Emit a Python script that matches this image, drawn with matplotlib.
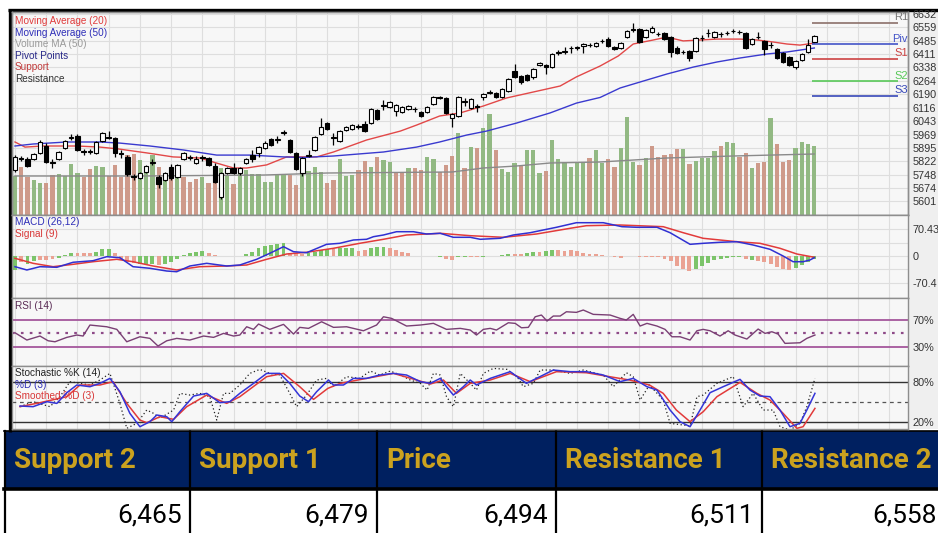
import matplotlib
matplotlib.use("Agg")
import matplotlib.pyplot as plt
from matplotlib.patches import Rectangle
import numpy as np

W, H = 938, 533
plt.rcParams["font.family"] = ["Liberation Sans", "DejaVu Sans"]

# ---------------- data ----------------
opens = [5774, 5840, 5834, 5834, 5867, 5906, 5818, 5834, 5895, 5950,
         5961, 5879, 5873, 5867, 5933, 5956, 5950, 5867, 5845, 5741,
         5730, 5763, 5812, 5735, 5719, 5790, 5735, 5834, 5840, 5812,
         5845, 5840, 5796, 5626, 5757, 5785, 5757, 5812, 5856, 5867,
         5895, 5944, 5939, 5977, 5939, 5867, 5757, 5851, 5884, 5972,
         6032, 5950, 5933, 5994, 5999, 6010, 6027, 6032, 6104, 6126,
         6120, 6098, 6093, 6110, 6109, 6093, 6093, 6137, 6176, 6170,
         6060, 6071, 6148, 6115, 6126, 6175, 6197, 6197, 6175, 6208,
         6318, 6291, 6297, 6286, 6351, 6351, 6341, 6417, 6423, 6443,
         6445, 6456, 6462, 6456, 6483, 6494, 6450, 6445, 6505, 6544,
         6549, 6505, 6533, 6524, 6527, 6505, 6445, 6425, 6428, 6428,
         6498, 6525, 6505, 6524, 6526, 6537, 6534, 6527, 6467, 6503,
         6483, 6462, 6440, 6418, 6396, 6341, 6379, 6423, 6478]
highs = [5857, 5851, 5845, 5868, 5939, 5922, 5834, 5879, 5939, 5972,
         5972, 5890, 5890, 5933, 5983, 5988, 5956, 5884, 5857, 5752,
         5763, 5801, 5834, 5746, 5763, 5807, 5807, 5873, 5857, 5851,
         5857, 5846, 5812, 5763, 5790, 5812, 5790, 5840, 5884, 5906,
         5933, 5950, 5961, 5994, 5944, 5873, 5846, 5884, 5961, 6060,
         6038, 5977, 5994, 6016, 6027, 6027, 6043, 6115, 6110, 6159,
         6154, 6137, 6126, 6131, 6120, 6098, 6126, 6181, 6181, 6176,
         6087, 6181, 6170, 6170, 6137, 6198, 6214, 6203, 6225, 6280,
         6357, 6297, 6302, 6335, 6368, 6357, 6418, 6434, 6450, 6456,
         6456, 6472, 6472, 6478, 6494, 6505, 6456, 6478, 6544, 6582,
         6555, 6549, 6566, 6533, 6533, 6511, 6456, 6434, 6434, 6505,
         6516, 6549, 6538, 6533, 6538, 6549, 6544, 6533, 6500, 6533,
         6489, 6478, 6445, 6423, 6401, 6379, 6417, 6494, 6516]
lows = [5763, 5823, 5790, 5829, 5862, 5812, 5785, 5829, 5890, 5939,
        5878, 5857, 5862, 5862, 5928, 5945, 5845, 5840, 5741, 5719,
        5724, 5757, 5801, 5675, 5713, 5719, 5730, 5829, 5829, 5807,
        5823, 5796, 5702, 5615, 5752, 5752, 5746, 5807, 5818, 5845,
        5890, 5906, 5922, 5966, 5867, 5774, 5741, 5845, 5878, 5966,
        5994, 5911, 5928, 5988, 5994, 5999, 5983, 6027, 6049, 6104,
        6115, 6071, 6087, 6104, 6093, 6065, 6087, 6131, 6165, 6082,
        6010, 6065, 6126, 6110, 6093, 6159, 6192, 6170, 6170, 6203,
        6280, 6247, 6264, 6275, 6346, 6302, 6335, 6406, 6412, 6417,
        6434, 6417, 6450, 6450, 6472, 6450, 6434, 6439, 6500, 6533,
        6472, 6500, 6527, 6511, 6489, 6395, 6412, 6412, 6373, 6423,
        6483, 6505, 6500, 6505, 6516, 6527, 6522, 6439, 6461, 6494,
        6406, 6445, 6384, 6362, 6346, 6330, 6373, 6417, 6472]
closes = [5845, 5834, 5796, 5862, 5928, 5818, 5812, 5873, 5933, 5956,
          5884, 5873, 5878, 5928, 5977, 5950, 5867, 5862, 5752, 5735,
          5757, 5796, 5818, 5697, 5757, 5730, 5801, 5867, 5845, 5834,
          5840, 5801, 5708, 5757, 5785, 5757, 5785, 5834, 5834, 5900,
          5922, 5911, 5944, 5983, 5873, 5780, 5840, 5856, 5956, 6010,
          5999, 5956, 5988, 6010, 6021, 6016, 5988, 6109, 6054, 6131,
          6148, 6131, 6120, 6126, 6110, 6071, 6120, 6175, 6170, 6087,
          6082, 6175, 6153, 6164, 6120, 6192, 6203, 6175, 6220, 6275,
          6286, 6258, 6269, 6330, 6362, 6341, 6412, 6423, 6428, 6447,
          6450, 6467, 6461, 6472, 6485, 6456, 6440, 6472, 6538, 6549,
          6478, 6544, 6555, 6520, 6494, 6423, 6418, 6421, 6390, 6500,
          6502, 6529, 6533, 6520, 6528, 6539, 6532, 6445, 6494, 6507,
          6440, 6460, 6390, 6368, 6352, 6374, 6412, 6462, 6511]
volume = [39, 48, 38, 35, 32, 32, 40, 41, 39, 51,
          42, 38, 46, 49, 48, 39, 50, 38, 60, 61,
          55, 46, 60, 48, 40, 47, 37, 38, 33, 36,
          38, 32, 38, 47, 39, 31, 43, 45, 41, 41,
          33, 33, 40, 40, 40, 30, 47, 44, 48, 43,
          32, 35, 56, 39, 40, 45, 54, 48, 58, 55,
          53, 43, 43, 47, 47, 45, 58, 56, 43, 50,
          59, 82, 47, 68, 67, 87, 101, 65, 46, 43,
          52, 49, 65, 65, 42, 44, 75, 56, 53, 48,
          52, 52, 57, 65, 52, 56, 48, 67, 98, 53,
          50, 57, 69, 58, 60, 61, 66, 66, 51, 54,
          57, 57, 64, 69, 73, 72, 58, 62, 47, 52,
          53, 97, 71, 53, 55, 67, 73, 71, 69]
volume_dir = ("grrggrrggg" "grrggrrrrr" "gggrgrgrrr" "grrggrgggg" "ggggrrgggg"
              "rrgggrrgrg" "grrgrrggrr" "rgrgrggrgg" "grgggrgggg" "ggrggrrggg"
              "rgrrrrrgrg" "gggrggrrgr" "rgrrrgggg")

ma20_x = [0, 1.6, 4.5, 9.9, 13.6, 16.5, 21.1, 25.3, 29.6, 32.3, 35.0, 37.1, 40.3, 43.5,
          45.6, 48.3, 51.0, 56.3, 61.7, 64.3, 68.0, 71.3, 75.0, 78.7, 83.0, 87.3, 89.9,
          93.7, 96.6, 99.0, 102.2, 104.4, 107.0, 109.7, 112.4, 116.1, 118.8, 121.4,
          123.6, 125.7, 128.0]
ma20_v = [5928, 5900, 5906, 5906, 5900, 5890, 5868, 5846, 5840, 5812, 5785, 5785, 5802,
          5846, 5846, 5846, 5873, 5939, 5988, 6021, 6071, 6088, 6126, 6170, 6203, 6236,
          6286, 6346, 6401, 6467, 6489, 6505, 6484, 6489, 6494, 6494, 6489, 6478, 6467,
          6461, 6472]
ma50_x = [0, 2.9, 8.3, 13.6, 16.8, 21.6, 27.0, 32.3, 37.6, 43.0, 46.1, 51.0, 59.0, 64.3,
          68.0, 72.3, 75.5, 80.3, 85.7, 89.9, 93.7, 96.9, 100.1, 104.4, 108.6, 112.4,
          116.1, 120.4, 123.6, 128.0]
ma50_v = [5906, 5917, 5928, 5928, 5922, 5906, 5884, 5856, 5856, 5846, 5843, 5851, 5873,
          5900, 5928, 5966, 5988, 6032, 6088, 6142, 6173, 6225, 6258, 6302, 6340, 6368,
          6390, 6412, 6423, 6445]
vol_ma_x = [0, 20, 40, 50, 70, 75, 80.3, 85.7, 93.7, 104.4, 115, 128]
vol_ma_v = [39, 39, 40, 42, 43, 47, 49, 52, 53, 57, 59, 61]

pivot_names = ["R1", "Piv", "S1", "S2", "S3"]
pivot_levels = [6584, 6465, 6386, 6262, 6183]
pivot_colors = ["#8C706A", "#4454C8", "#CC4242", "#58C858", "#3848B8"]

price_ticks = [6632, 6559, 6485, 6411, 6338, 6264, 6190, 6116, 6043, 5969,
               5895, 5822, 5748, 5674, 5601]

macd_x = [0, 1.9, 4, 6.7, 9.3, 12.5, 14.7, 16.8, 18.9, 21.6, 24.3, 25.9, 28, 30.7, 33.9,
          36, 38.7, 40.8, 43, 44.6, 46.7, 49.9, 52, 54.2, 56.3, 57.4, 59, 61.1, 63.8,
          65.9, 68.1, 70.2, 72.9, 74.5, 77.7, 79.8, 82.5, 84.6, 86.7, 89.9, 94.2, 97.2,
          99.6, 102.8, 104.9, 106, 108.1, 110.2, 112.9, 115.6, 118.2, 120.9, 123, 124.6,
          126.2, 127.3, 128]
macd_v = [-27.9, -36.5, -27.9, -29.5, -16.4, -12.3, -1.8, -4.4, -27.9, -32.1, -39.2,
          -41, -26.1, -19.1, -26.1, -23.5, -8.6, 7, 24.3, 11.2, 8.6, 30.5, 33.1, 41.8,
          43.6, 50.4, 54.8, 63.4, 63.4, 57.4, 59.2, 48.8, 48.8, 43.6, 46.2, 54.8, 60.8,
          67.9, 74.9, 86.9, 86.9, 76.5, 74.9, 74.9, 60.8, 50.4, 30.5, 33.1, 35.8, 37.3,
          28.7, 17.5, 0, -14.9, -14.9, -10.4, -4.4]
signal_x = [0, 2.9, 6.1, 9.3, 12.5, 16.3, 18.9, 22.1, 25.9, 29.6, 33.9, 37.1, 40.3, 43.5,
            46.7, 51, 55.2, 59, 62.7, 65.9, 68.1, 72.9, 78.2, 83.5, 88.9, 91.5, 96.9,
            103.8, 107, 110.2, 115.6, 119.3, 122.5, 125.2, 128]
signal_v = [-6, -19.1, -27.9, -21.7, -14.9, -8.6, -14.9, -26.1, -36.5, -27.9, -26.1,
            -23.5, -8.6, 5.2, 9.7, 20.1, 33.1, 43.6, 54.8, 57.4, 59.2, 53, 48.8, 57.4,
            72.3, 79.1, 80.9, 76.5, 60.8, 46.2, 37.3, 33.1, 20.1, 5.2, -3.4]
hist = [-36.5, -15.7, -20.9, -13, -10.4, -10.4, -7.8, -5.2, 2.6, 7.8,
        7.8, 7.8, 7, 10.4, 17, 17, 7.8, -10.4, -14.9, -18.3,
        -19.6, -19.6, -19.6, -23.5, -19.6, -14.9, -8.6, 2.6, 7, 11.2,
        13, 8.6, 2.6, 0.8, -1.3, -1.3, -1.3, 5.2, 11.2, 20.1,
        26.1, 28.7, 30.5, 34.7, 8.6, 7, 5.2, 7, 11.2, 15.7,
        17.5, 17.5, 20.1, 20.1, 20.1, 13.8, 15.7, 20.1, 22.7, 22.7,
        20.9, 15.7, 11.2, 7, 1.3, 0.8, -1.3, -0.8, -2.6, -7.8,
        -10.4, -3.9, -3.9, -3.4, -3.4, -2.6, -1.3, 0.8, 2.6, 5.2,
        5.2, 6, 8.6, 11.2, 11.2, 13.8, 15.7, 15.7, 13.8, 15.7,
        13.8, 8.6, 6, 4.4, 2.6, -0.8, -2.6, -4.4, 0.8, -0.8,
        -2.6, -2.6, -2.6, -3.9, -7.8, -13, -26.1, -33.9, -39.2, -33.9,
        -26.1, -18.3, -10.4, -7.8, -5.2, -2.6, -2.6, -7.8, -10.4, -13,
        -15.7, -20.9, -28.7, -35.2, -36.5, -31.3, -23.5, -15.7, -7.8]
hist_dir = ("grggrrrggg" "rrrgggrrrr" "gggrgggggg" "grrrrrrggg" "ggggrrrggg"
            "grgggrrggg" "rrrrrrgggr" "rgg" "rrgggggrrg" "grggrrrrrr"
            "rrrrrggrrr" "rrrrrrgggg" "ggggrgrrrr" "rrgggg")

rsi_x = [0, 1.9, 4, 5.3, 6.4, 8.3, 9.9, 10.9, 12, 14.7, 16.3, 17.9, 20, 21.6, 22.9,
         24.3, 25.9, 28, 30.2, 31.8, 33.4, 35, 36, 37.1, 38.2, 39, 40.8, 43, 44.6, 45.6,
         47, 49.1, 51, 53.1, 55.8, 57.9, 59, 60.3, 62.7, 64.9, 67, 69.1, 71.3, 72.9,
         73.9, 75, 76.1, 77.1, 79, 80.1, 81.1, 82.2, 83.3, 84.3, 85.2, 86.2, 87.3, 88.3,
         89.9, 91, 92.6, 95.3, 96.9, 97.9, 99, 100.1, 101.2, 102.8, 104.1, 105.2, 106.5,
         108.1, 109.2, 110.2, 111.3, 112.9, 114.2, 115.3, 117.2, 119, 120.1, 121.2,
         122.2, 123.3, 125.7, 126.8, 128.1]
rsi_v = [50.9, 40, 46, 38.9, 37.4, 44, 47.5, 46, 62.5, 59.9, 56, 37.4, 44.9, 42.5, 31,
         38.9, 42.5, 40, 46, 44, 50, 46, 47.5, 59.9, 56, 64, 56, 63.5, 49, 59, 57.5,
         67.4, 59, 59.9, 53.9, 62.5, 74.9, 72.5, 61, 62.5, 65, 56, 57.5, 55, 47.5, 56,
         57.5, 55, 65.9, 65, 58.4, 59, 74.9, 77.5, 68.5, 76, 76, 82.4, 81.5, 85, 78.5,
         77.5, 72.5, 70, 78.5, 61, 65, 61, 56, 44.9, 44.9, 40, 53.9, 56, 53.9, 46,
         53.9, 47.5, 41.5, 56.5, 50, 52.4, 49, 35, 35.9, 42.5, 47.5]

stk_x = [0.8, 2.9, 5.6, 7.2, 8.8, 10.4, 12, 13.6, 15.2, 16.8, 17.9, 19.5, 21.1, 22.2,
         23.2, 25.4, 26.4, 28, 29.6, 31.2, 32.3, 33.4, 34.4, 36, 37.6, 39.2, 40.8, 42.4,
         44, 45.1, 46.7, 48.3, 49.9, 51, 53.1, 55.2, 56.9, 58.4, 60.1, 61.7, 63.3, 64.9,
         66, 67, 68.1, 69.1, 70.2, 71.3, 72.9, 73.9, 75, 76.6, 78.8, 80.4, 81.4, 83,
         84.1, 86.2, 88.9, 91, 94.2, 95.8, 97.9, 99, 100.1, 101.6, 103.8, 104.9, 107,
         108.1, 109.2, 110.2, 112.4, 115, 116.6, 118.2, 119.8, 121.4, 122.5, 124.1,
         125.7, 126.8, 128.1]
stk_v = [42.9, 50.5, 42.9, 58.1, 81, 78.4, 75.9, 83.5, 93.6, 47.9, 9.9, 17.5, 37.8,
         32.7, 25.1, 37.8, 63.2, 60.6, 63.2, 58.1, 22.5, 63.2, 63.2, 75.9, 93.6, 99.7,
         93.6, 91.1, 63.2, 42.9, 60.6, 83.5, 86, 73.3, 88.6, 86, 97.2, 91.1, 97.2, 91.1,
         83.5, 78.4, 68.2, 93.6, 91.1, 58.1, 42.9, 93.6, 78.4, 68.2, 93.6, 101.2, 99.7,
         88.6, 73.3, 78.4, 98.7, 98.7, 93.6, 98.7, 91.1, 73.3, 94.6, 88.6, 53, 75.9, 53,
         17.5, 15, 13.4, 58.1, 60.6, 78.4, 88.6, 42.9, 63.2, 37.8, 37.8, 12.4, 7.3,
         17.5, 42.9, 86]
std_x = [0.8, 2.9, 5.1, 6.7, 8.3, 9.9, 12, 13.6, 15.2, 16.8, 18.4, 20, 21.6, 22.7, 24.3,
         25.1, 26.4, 28.6, 30.7, 32.8, 34.4, 36, 38.2, 40.3, 42.4, 44, 45.6, 47, 48.3,
         50.2, 51, 52.6, 54.2, 56.3, 58.4, 60.6, 62.7, 64.9, 66.5, 68.1, 69.1, 70.2,
         71.8, 72.9, 73.9, 76.1, 79.3, 81.9, 86.2, 88.9, 91.5, 94.2, 96.9, 99, 101.2,
         102.8, 104.9, 106.5, 108.1, 109.7, 111.3, 113.4, 116.1, 117.7, 119.3, 120.9,
         122.5, 124.1, 125.7, 126.8, 128.1]
std_v = [43.9, 42.9, 50.5, 47.9, 64.2, 75.9, 73.3, 78.4, 86, 65.7, 32.7, 12.4, 20, 30.2,
         27.6, 20, 35.2, 59.1, 63.2, 49, 50.5, 63.2, 78.4, 93.6, 93.6, 78.4, 59.1, 50.5,
         65.7, 83.5, 75.9, 75.9, 86, 86, 91.1, 93.6, 91.1, 81, 78.4, 86, 73.3, 60.6,
         73.3, 83.5, 75.9, 86, 96.2, 78.4, 98.7, 96.2, 96.2, 91.1, 81, 86, 73.3, 68.2,
         37.8, 20, 12.4, 37.8, 64.2, 73.3, 84.5, 68.2, 59.1, 58.1, 37.8, 12.4, 17.5,
         37.8, 63.2]
sms_x = [0.8, 4, 8.3, 10.4, 13.6, 15.7, 17.9, 20, 21.1, 23.2, 25.4, 27.5, 30.7, 33.9, 36,
         40.3, 43, 45.6, 47.8, 50.1, 52.1, 56.3, 60.6, 64.3, 66.5, 68.6, 70.7, 72.9,
         76.1, 79.3, 82.5, 86.7, 91.5, 95.2, 98.4, 101.6, 103.8, 105.9, 108.1, 110.2,
         112.4, 116.1, 118.8, 120.9, 123, 125.2, 126.2, 128.1]
sms_v = [42.9, 49, 58.1, 75.9, 75.9, 81, 47.9, 22.5, 18.5, 27.6, 23.6, 42.9, 60.6, 47.9,
         58.1, 88.6, 93.6, 73.3, 54, 70.8, 78.4, 86, 93.6, 83.5, 77.4, 83.5, 63.2, 78.4,
         83.5, 93.6, 81, 96.2, 94.6, 88.6, 83.5, 75.9, 63.2, 37.8, 20, 35.2, 58.1, 79.9,
         63.2, 53, 32.7, 9.9, 12.4, 40.3]

table_headers = ["Support 2", "Support 1", "Price", "Resistance 1", "Resistance 2"]
table_values = ["6,465", "6,479", "6,494", "6,511", "6,558"]
col_edges = [5, 190, 377, 556, 762, 938]

# ---------------- figure ----------------
fig = plt.figure(figsize=(W / 100, H / 100), dpi=100)
fig.patch.set_facecolor("white")


def px_axes(x0, y0, x1, y1):
    return fig.add_axes([x0 / W, 1 - y1 / H, (x1 - x0) / W, (y1 - y0) / H])


def fxy(px, py):
    return px / W, 1 - py / H


bg = px_axes(0, 0, W, H)
bg.set_xlim(0, W)
bg.set_ylim(H, 0)
bg.axis("off")
bg.add_patch(Rectangle((908, 12), W - 908, 417, fc="#EFEFEF", ec="none"))
bg.plot([8, W], [10, 10], color="black", lw=2.4, solid_capstyle="butt")
bg.plot([9.5, 9.5], [9, 432], color="black", lw=2.4, solid_capstyle="butt")

# table
bg.add_patch(Rectangle((4, 431), W - 4, 57, fc="#002060", ec="none"))
bg.plot([4, W], [431, 431], color="black", lw=1.2)
bg.plot([4, W], [489, 489], color="black", lw=2.6)
for e in col_edges[:-1]:
    bg.plot([e, e], [431, H], color="black", lw=1.6)
tfont = ["Roboto", "DejaVu Sans"]
for i, (hd, val) in enumerate(zip(table_headers, table_values)):
    bg.text(col_edges[i] + 9, 460, hd, color="#CBA21F", fontsize=20, fontweight="bold",
            family=tfont, ha="left", va="center")
    right = col_edges[i + 1] - 8 if i < 4 else W - 1
    bg.text(right, 515, val, color="black", fontsize=19, family=tfont,
            ha="right", va="center")

XL = (-0.48, 143)
GRID = "#DEDEDE"
x = np.arange(len(closes))

panels = [(12, 12, 908, 215), (12, 215, 908, 298.3), (12, 298.3, 908, 365.7),
          (12, 365.7, 908, 429)]
ax_v = px_axes(*panels[0])
ax_p = ax_v.twinx()
ax_m = px_axes(*panels[1])
ax_r = px_axes(*panels[2])
ax_s = px_axes(*panels[3])

for ax in (ax_v, ax_m, ax_r, ax_s):
    ax.set_facecolor("#F7F7F7")
    ax.set_xlim(*XL)
    ax.set_xticks([])
    for g in range(0, 145, 5):
        ax.axvline(g, color=GRID, lw=0.8, zorder=0)
for ax in (ax_v, ax_p, ax_m, ax_r, ax_s):
    for s in ax.spines.values():
        s.set_color("#8E8E8E")
        s.set_linewidth(1)

# ---- price + volume ----
ax_v.set_ylim(0, 203)
ax_v.set_yticks([])
vcol = ["#92B983" if c == "g" else "#CE9A8A" for c in volume_dir]
ax_v.bar(x, volume, width=0.68, color=vcol, zorder=2)
ax_v.plot(vol_ma_x, vol_ma_v, color="#8A8A8A", lw=1, zorder=3)

ax_p.set_xlim(*XL)
ax_p.set_ylim(5526.5, 6643)
ax_v.hlines(price_ticks, XL[0], XL[1], colors=GRID, lw=0.8, zorder=1,
            transform=ax_p.transData)
ax_p.set_yticks(price_ticks)
ax_p.set_yticklabels([str(t) for t in price_ticks])
ax_p.tick_params(axis="y", length=0, pad=3, labelsize=7.8, labelcolor="#333333")
ax_p.set_xticks([])

ax_p.plot(ma20_x, ma20_v, color="#E24848", lw=1, zorder=1)
ax_p.plot(ma50_x, ma50_v, color="#3A3ACF", lw=1, zorder=1)

o = np.array(opens)
c = np.array(closes)
ax_p.vlines(x, lows, highs, color="black", lw=0.9, zorder=2)
ax_p.bar(x, np.maximum(np.abs(c - o), 1.2), bottom=np.minimum(o, c), width=0.72,
         color=np.where(c >= o, "white", "black"), edgecolor="black", lw=0.8, zorder=3)

ax_p.hlines(pivot_levels, 127.6, 141.4, colors=pivot_colors, lw=1.2, zorder=2)
for nm, lv, col in zip(pivot_names, pivot_levels, pivot_colors):
    ax_p.text(143, lv + 4, nm, color=col if nm != "R1" else "#777777", fontsize=8,
              ha="right", va="bottom", clip_on=False)

legend_items = [("Moving Average (20)", "#E03C3C"), ("Moving Average (50)", "#2E2EB8"),
                ("Volume MA (50)", "#9A9A9A"), ("Pivot Points", "#2A2A8A"),
                ("Support", "#C03A3A"), ("Resistance", "#333333")]
for k, (t, col) in enumerate(legend_items):
    ax_p.text(*fxy(15, 21 + 11.6 * k), t, color=col, fontsize=7.2, va="center",
              transform=fig.transFigure)

# ---- MACD ----
ax_m.set_ylim(-110.4, 107)
for lv in (-70.43, -35.2, 0, 35.2, 70.43):
    ax_m.axhline(lv, color=GRID, lw=0.8, zorder=0)
hcol = ["#7CC46A" if ch == "g" else "#EAA293" for ch in hist_dir]
ax_m.bar(x, hist, width=0.62, color=hcol, zorder=1)
ax_m.plot(signal_x, signal_v, color="#E23A3A", lw=1.1, zorder=2)
ax_m.plot(macd_x, macd_v, color="#3030D2", lw=1.1, zorder=3)
ax_m.yaxis.tick_right()
ax_m.set_yticks([70.43, 0, -70.43])
ax_m.set_yticklabels(["70.43", "0", "-70.4"])
ax_m.tick_params(axis="y", length=0, pad=3, labelsize=7.8, labelcolor="#333333")
ax_m.text(*fxy(15, 222), "MACD (26,12)", color="#2E2EB8", fontsize=7.2, va="center",
          transform=fig.transFigure)
ax_m.text(*fxy(15, 234), "Signal (9)", color="#D83636", fontsize=7.2, va="center",
          transform=fig.transFigure)

# ---- RSI ----
ax_r.set_ylim(1.5, 102.6)
ax_r.axhline(70, color="#A4579C", lw=1.3, zorder=1)
ax_r.axhline(30, color="#A4579C", lw=1.3, zorder=1)
ax_r.axhline(50, color="#8E4A88", lw=1.6, ls=(0, (1.2, 2.8)), zorder=1)
ax_r.plot(rsi_x, rsi_v, color="#7A3F74", lw=1, zorder=2)
ax_r.yaxis.tick_right()
ax_r.set_yticks([70, 30])
ax_r.set_yticklabels(["70%", "30%"])
ax_r.tick_params(axis="y", length=0, pad=3, labelsize=7.8, labelcolor="#333333")
ax_r.text(*fxy(15, 306), "RSI (14)", color="#5A2C55", fontsize=7.2, va="center",
          transform=fig.transFigure)

# ---- Stochastic ----
ax_s.set_ylim(8.9, 105.3)
ax_s.axhline(80, color="#333333", lw=1, zorder=1)
ax_s.axhline(20, color="#333333", lw=1, zorder=1)
ax_s.axhline(50, color="#555555", lw=0.9, ls=(0, (3, 3)), zorder=1)
ax_s.plot(stk_x, stk_v, color="#222222", lw=0.9, ls=(0, (1, 2)), zorder=2)
ax_s.plot(sms_x, sms_v, color="#E23A3A", lw=1.1, zorder=3)
ax_s.plot(std_x, std_v, color="#3434D8", lw=1.1, zorder=4)
ax_s.yaxis.tick_right()
ax_s.set_yticks([80, 20])
ax_s.set_yticklabels(["80%", "20%"])
ax_s.tick_params(axis="y", length=0, pad=3, labelsize=7.8, labelcolor="#333333")
for t, col, py in [("Stochastic %K (14)", "#222222", 373), ("%D (3)", "#2E2EB8", 384.5),
                   ("Smoothed %D (3)", "#D83636", 396)]:
    ax_s.text(*fxy(15, py), t, color=col, fontsize=7.2, va="center",
              transform=fig.transFigure)

fig.savefig("out.png", dpi=100)
